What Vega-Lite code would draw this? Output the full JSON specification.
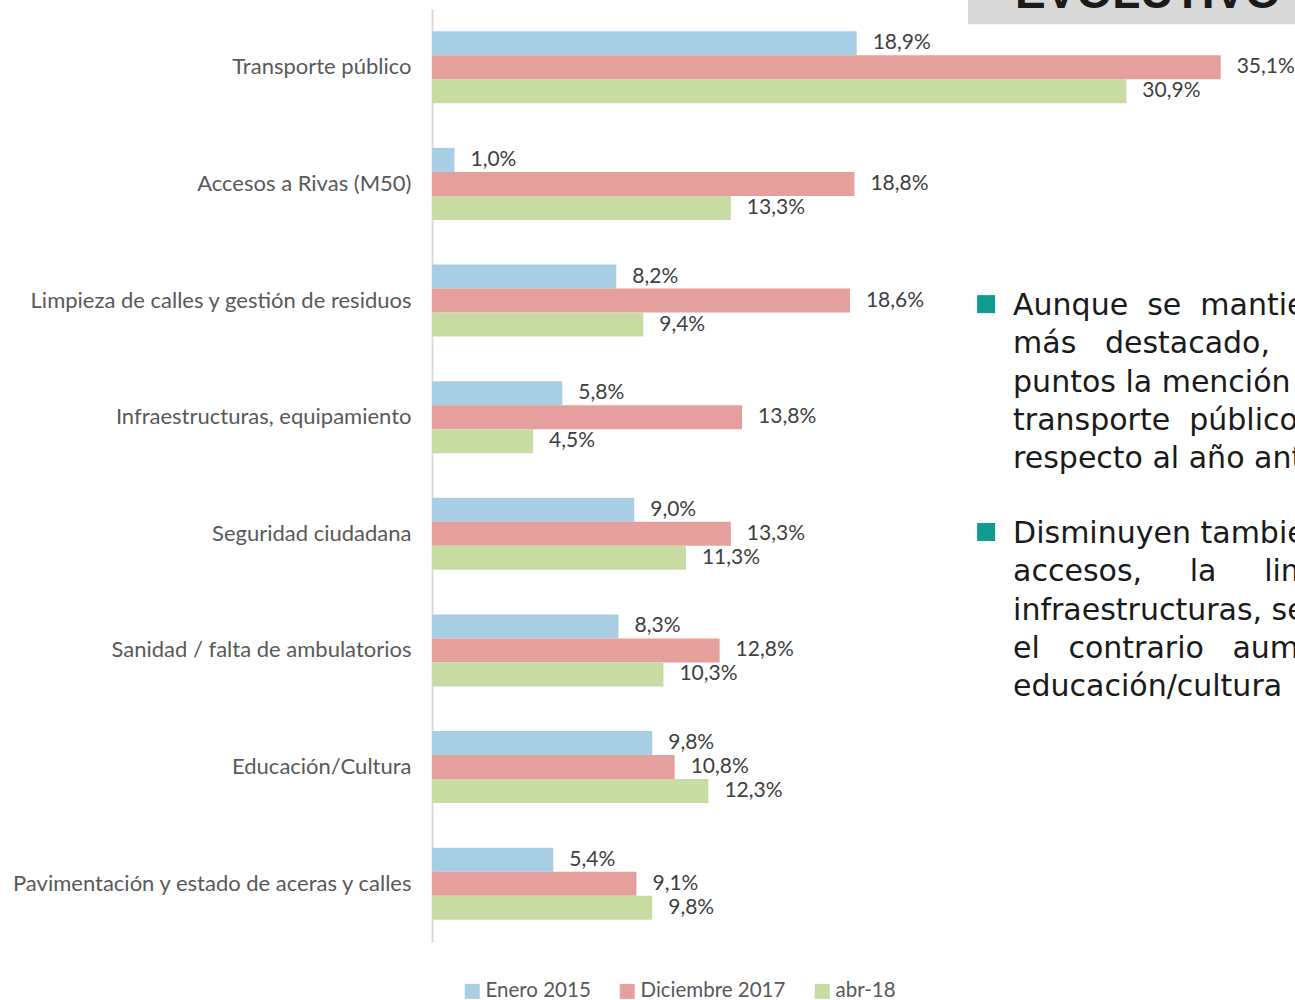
{
  "$schema": "https://vega.github.io/schema/vega-lite/v6.json",
  "autosize": {"type": "none"},
  "width": 863,
  "height": 933,
  "padding": {"left": 432, "top": 9, "right": 0, "bottom": 58},
  "background": "white",
  "config": {
    "view": {"stroke": null},
    "locale": {"number": {"decimal": ",", "thousands": ".", "grouping": [3], "currency": ["", " €"]}},
    "axis": {"grid": false},
    "legend": {"padding": 0}
  },
  "resolve": {"scale": {"y": "independent"}},
  "layer": [
    {
      "data": {"values": [
        {"category": "Transporte público", "series": "Enero 2015", "value": 0.189},
        {"category": "Transporte público", "series": "Diciembre 2017", "value": 0.351},
        {"category": "Transporte público", "series": "abr-18", "value": 0.309},
        {"category": "Accesos a Rivas (M50)", "series": "Enero 2015", "value": 0.010},
        {"category": "Accesos a Rivas (M50)", "series": "Diciembre 2017", "value": 0.188},
        {"category": "Accesos a Rivas (M50)", "series": "abr-18", "value": 0.133},
        {"category": "Limpieza de calles y gestión de residuos", "series": "Enero 2015", "value": 0.082},
        {"category": "Limpieza de calles y gestión de residuos", "series": "Diciembre 2017", "value": 0.186},
        {"category": "Limpieza de calles y gestión de residuos", "series": "abr-18", "value": 0.094},
        {"category": "Infraestructuras, equipamiento", "series": "Enero 2015", "value": 0.058},
        {"category": "Infraestructuras, equipamiento", "series": "Diciembre 2017", "value": 0.138},
        {"category": "Infraestructuras, equipamiento", "series": "abr-18", "value": 0.045},
        {"category": "Seguridad ciudadana", "series": "Enero 2015", "value": 0.090},
        {"category": "Seguridad ciudadana", "series": "Diciembre 2017", "value": 0.133},
        {"category": "Seguridad ciudadana", "series": "abr-18", "value": 0.113},
        {"category": "Sanidad / falta de ambulatorios", "series": "Enero 2015", "value": 0.083},
        {"category": "Sanidad / falta de ambulatorios", "series": "Diciembre 2017", "value": 0.128},
        {"category": "Sanidad / falta de ambulatorios", "series": "abr-18", "value": 0.103},
        {"category": "Educación/Cultura", "series": "Enero 2015", "value": 0.098},
        {"category": "Educación/Cultura", "series": "Diciembre 2017", "value": 0.108},
        {"category": "Educación/Cultura", "series": "abr-18", "value": 0.123},
        {"category": "Pavimentación y estado de aceras y calles", "series": "Enero 2015", "value": 0.054},
        {"category": "Pavimentación y estado de aceras y calles", "series": "Diciembre 2017", "value": 0.091},
        {"category": "Pavimentación y estado de aceras y calles", "series": "abr-18", "value": 0.098}
      ]},
      "encoding": {
        "y": {
          "field": "category", "type": "nominal", "sort": null,
          "scale": {"paddingInner": 0.382, "paddingOuter": 0.191},
          "axis": {
            "title": null, "ticks": false, "labelFont": "Lato", "labelFontSize": 22,
            "labelColor": "#595959", "labelPadding": 21, "labelLimit": 0,
            "domainColor": "#d9d9d9", "domainWidth": 2
          }
        },
        "yOffset": {
          "field": "series", "type": "nominal", "sort": ["Enero 2015", "Diciembre 2017", "abr-18"],
          "scale": {"paddingInner": 0, "paddingOuter": 0}
        },
        "x": {
          "field": "value", "type": "quantitative",
          "scale": {"domain": [0, 0.38407], "nice": false, "zero": true},
          "axis": null
        }
      },
      "layer": [
        {
          "mark": {"type": "bar"},
          "encoding": {
            "color": {
              "field": "series", "type": "nominal",
              "sort": ["Enero 2015", "Diciembre 2017", "abr-18"],
              "scale": {"domain": ["Enero 2015", "Diciembre 2017", "abr-18"], "range": ["#A8CEE4", "#E5A09D", "#C8DBA2"]},
              "legend": {
                "title": null, "orient": "none", "direction": "horizontal",
                "legendX": 30, "legendY": 972,
                "symbolType": "square", "symbolSize": 225, "symbolStrokeWidth": 0,
                "labelFont": "Lato", "labelFontSize": 20.5, "labelColor": "#595959",
                "labelOffset": 3, "columnPadding": 26
              }
            }
          }
        },
        {
          "mark": {"type": "text", "align": "left", "baseline": "middle", "dx": 16, "font": "Lato", "fontSize": 21, "color": "#404040"},
          "encoding": {
            "text": {"field": "value", "type": "quantitative", "format": ".1%"}
          }
        }
      ]
    },
    {
      "encoding": {
        "y": {
          "field": "line", "type": "quantitative",
          "scale": {"domain": [-7.755, 16.605], "reverse": true, "nice": false, "zero": false},
          "axis": null
        }
      },
      "layer": [
        {
          "data": {"values": [{"x0": 0.2385, "x1": 0.40, "line0": -8.1, "line1": -7.36}]},
          "mark": {"type": "rect", "color": "#d9d9d9"},
          "encoding": {
            "x": {"field": "x0", "type": "quantitative", "scale": {"domain": [0, 0.38407], "nice": false}, "axis": null},
            "x2": {"field": "x1"},
            "y": {"field": "line0", "type": "quantitative", "scale": {"domain": [-7.755, 16.605], "reverse": true, "nice": false, "zero": false}, "axis": null},
            "y2": {"field": "line1"}
          }
        },
        {
          "data": {"values": [{"x": 0.2595, "line": -7.794, "t": "EVOLUTIVO"}]},
          "mark": {"type": "text", "align": "left", "baseline": "alphabetic", "font": "Liberation Sans", "fontWeight": "bold", "fontSize": 46, "color": "#1a1a1a"},
          "encoding": {
            "x": {"field": "x", "type": "quantitative", "scale": {"domain": [0, 0.38407], "nice": false}, "axis": null},
            "text": {"field": "t"}
          }
        },
        {
          "data": {"values": [{"x": 0.2466, "line": -0.05}, {"x": 0.2466, "line": 5.9}]},
          "mark": {"type": "point", "shape": "square", "filled": true, "size": 324, "color": "#119C91", "opacity": 1},
          "encoding": {
            "x": {"field": "x", "type": "quantitative", "scale": {"domain": [0, 0.38407], "nice": false}, "axis": null}
          }
        },
        {
          "data": {"values": [
            {"x": 0.2586, "line": 0, "t": "Aunque\u00a0\u00a0se\u00a0\u00a0mantiene"},
            {"x": 0.2586, "line": 1, "t": "más\u00a0\u00a0\u00a0destacado,"},
            {"x": 0.2586, "line": 2, "t": "puntos la mención"},
            {"x": 0.2586, "line": 3, "t": "transporte\u00a0\u00a0público"},
            {"x": 0.2586, "line": 4, "t": "respecto al año anterior"},
            {"x": 0.2586, "line": 5.95, "t": "Disminuyen también"},
            {"x": 0.2586, "line": 6.95, "t": "accesos,\u00a0\u00a0\u00a0\u00a0\u00a0la\u00a0\u00a0\u00a0\u00a0\u00a0limpieza"},
            {"x": 0.2586, "line": 7.95, "t": "infraestructuras, seguridad"},
            {"x": 0.2586, "line": 8.95, "t": "el\u00a0\u00a0\u00a0contrario\u00a0\u00a0\u00a0aumenta"},
            {"x": 0.2586, "line": 9.95, "t": "educación/cultura"}
          ]},
          "mark": {"type": "text", "align": "left", "baseline": "middle", "font": "DejaVu Sans", "fontSize": 30, "color": "#1a1a1a"},
          "encoding": {
            "x": {"field": "x", "type": "quantitative", "scale": {"domain": [0, 0.38407], "nice": false}, "axis": null},
            "text": {"field": "t"}
          }
        }
      ]
    }
  ]
}
